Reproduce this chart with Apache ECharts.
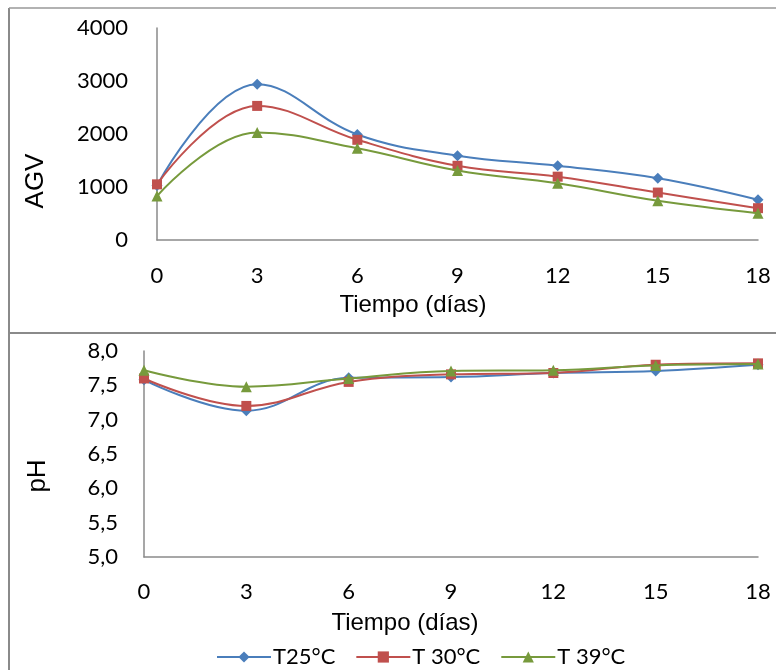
<!DOCTYPE html>
<html>
<head>
<meta charset="utf-8">
<script src="https://cdn.jsdelivr.net/npm/echarts@6/dist/echarts.min.js"></script>
<style>
  html, body { margin: 0; padding: 0; background: #fff; }
  #chart { width: 776px; height: 670px; }
</style>
</head>
<body>
<div id="chart"></div>
<script>
// Sampling days
const days = [0, 3, 6, 9, 12, 15, 18];

// Series names
const seriesNames = ['T25°C', 'T 30°C', 'T 39°C'];

// AGV per temperature
const agvT25 = [1030, 2940, 1990, 1590, 1400, 1165, 760];
const agvT30 = [1050, 2530, 1890, 1400, 1195, 895, 600];
const agvT39 = [830, 2030, 1730, 1310, 1070, 740, 505];

// pH per temperature
const phT25 = [7.58, 7.13, 7.61, 7.62, 7.68, 7.71, 7.80];
const phT30 = [7.60, 7.20, 7.55, 7.66, 7.68, 7.80, 7.82];
const phT39 = [7.72, 7.48, 7.60, 7.71, 7.72, 7.79, 7.81];

const colors = ['#4a7ebb', '#c0504d', '#779a3c'];
const symbols = ['diamond', 'rect', 'triangle'];
const symbolSizes = [11, 10, 11];

const axisGray = '#8a8a8a';
const tickFont = 'Lato, "Noto Sans", sans-serif';
const titleFont = '"Liberation Sans", Arial, sans-serif';

function pairs(values) {
  return days.map((d, i) => [d, values[i]]);
}

function makeSeries(values, idx, gridIdx) {
  return {
    name: seriesNames[idx],
    type: 'line',
    xAxisIndex: gridIdx,
    yAxisIndex: gridIdx,
    data: pairs(values),
    smooth: 0.4,
    clip: false,
    symbol: symbols[idx],
    symbolSize: symbolSizes[idx],
    lineStyle: { color: colors[idx], width: 2 },
    itemStyle: { color: colors[idx] },
    z: 2 + idx
  };
}

function xAxisCfg(gridIdx, margin) {
  return {
    type: 'value', gridIndex: gridIdx, min: 0, max: 18, interval: 3,
    axisLine: { show: true, onZero: false, lineStyle: { color: axisGray, width: 1.5 } },
    axisTick: { show: false },
    splitLine: { show: false },
    axisLabel: { color: '#000', fontFamily: tickFont, fontSize: 22, margin: margin }
  };
}

const chart = echarts.init(document.getElementById('chart'), null, { renderer: 'canvas' });

chart.setOption({
  animation: false,
  backgroundColor: '#fff',
  grid: [
    { left: 157, right: 18, top: 28, height: 212 },
    { left: 144, right: 18, top: 351, height: 206 }
  ],
  xAxis: [xAxisCfg(0, 25), xAxisCfg(1, 24)],
  yAxis: [
    {
      type: 'value', gridIndex: 0, min: 0, max: 4000, interval: 1000,
      axisLine: { show: true, lineStyle: { color: axisGray, width: 1.5 } },
      axisTick: { show: false },
      splitLine: { show: false },
      axisLabel: {
        color: '#000', fontFamily: tickFont, fontSize: 22, margin: 29,
        formatter: v => String(v)
      }
    },
    {
      type: 'value', gridIndex: 1, min: 5, max: 8, interval: 0.5,
      axisLine: { show: true, lineStyle: { color: axisGray, width: 1.5 } },
      axisTick: { show: false },
      splitLine: { show: false },
      axisLabel: {
        color: '#000', fontFamily: tickFont, fontSize: 22, margin: 26,
        formatter: v => v.toFixed(1).replace('.', ',')
      }
    }
  ],
  legend: {
    data: seriesNames,
    left: 216,
    top: 646,
    padding: 0,
    itemWidth: 54,
    itemHeight: 14,
    itemGap: 20,
    textStyle: { color: '#000', fontFamily: tickFont, fontSize: 22, padding: [0, 0, 0, -3] }
  },
  graphic: [
    // outer frame and panel divider
    { type: 'line', shape: { x1: 9, y1: 8, x2: 9, y2: 670 }, style: { stroke: axisGray, lineWidth: 2 }, silent: true },
    { type: 'line', shape: { x1: 9, y1: 8, x2: 776, y2: 8 }, style: { stroke: '#999', lineWidth: 1.5 }, silent: true },
    { type: 'line', shape: { x1: 9, y1: 333, x2: 776, y2: 333 }, style: { stroke: axisGray, lineWidth: 2 }, silent: true },
    // axis titles
    { type: 'text', x: 413, y: 305, style: { text: 'Tiempo (días)', fill: '#000', font: '24px ' + titleFont, textAlign: 'center', textVerticalAlign: 'middle' }, silent: true },
    { type: 'text', x: 405, y: 623, style: { text: 'Tiempo (días)', fill: '#000', font: '24px ' + titleFont, textAlign: 'center', textVerticalAlign: 'middle' }, silent: true },
    { type: 'text', x: 36, y: 181, rotation: Math.PI / 2, style: { text: 'AGV', fill: '#000', font: '26px ' + titleFont, textAlign: 'center', textVerticalAlign: 'middle' }, silent: true },
    { type: 'text', x: 38, y: 476, rotation: Math.PI / 2, style: { text: 'pH', fill: '#000', font: '26px ' + titleFont, textAlign: 'center', textVerticalAlign: 'middle' }, silent: true }
  ],
  series: [
    makeSeries(agvT25, 0, 0),
    makeSeries(agvT30, 1, 0),
    makeSeries(agvT39, 2, 0),
    makeSeries(phT25, 0, 1),
    makeSeries(phT30, 1, 1),
    makeSeries(phT39, 2, 1)
  ]
});
</script>
</body>
</html>
